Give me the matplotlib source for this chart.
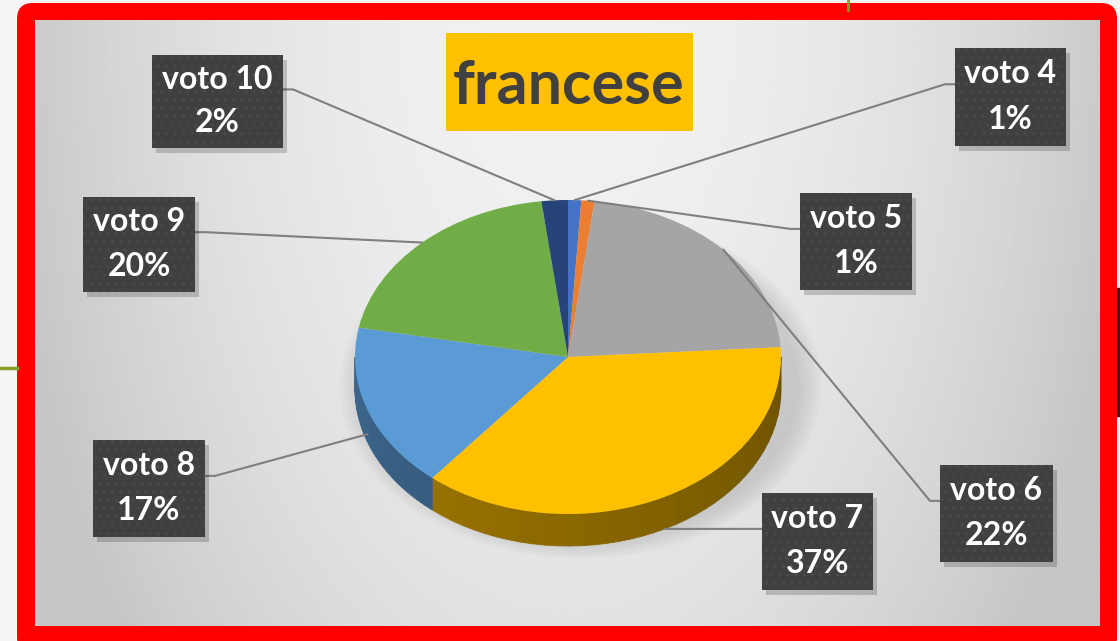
import numpy as np
import matplotlib
matplotlib.use("Agg")
import matplotlib.pyplot as plt
from matplotlib.patches import Rectangle, FancyBboxPatch, Polygon, Ellipse
from matplotlib.colors import to_rgb

# data
labels = ["voto 4", "voto 5", "voto 6", "voto 7", "voto 8", "voto 9", "voto 10"]
values = [1, 1, 22, 37, 17, 20, 2]
colors = ["#4472C4", "#ED7D31", "#A5A5A5", "#FFC000", "#5B9BD5", "#70AD47", "#264478"]
title = "francese"

# label boxes (left, top, width, height) in pixels, and which side the leader leaves from
boxes = [(955, 48, 111, 98), (800, 193, 112, 97), (940, 465, 113, 97), (762, 493, 111, 97),
         (93, 440, 112, 97), (83, 197, 112, 95), (152, 55, 131, 93)]
box_side = ["L", "L", "L", "L", "R", "R", "R"]
# where the leader touches the pie: 0 = top rim, >0 = down the side wall (fraction of depth)
anchor_drop = [0, 0, 0, 1.0, 0.75, 0, 0]

W, H = 1120, 641
CX, CY, RX, RY, DEPTH = 568, 357, 213, 157, 32

fig = plt.figure(figsize=(W / 100, H / 100), dpi=100)
fig.patch.set_facecolor("#f5f5f5")

# background / frame
bg = fig.add_axes([0, 0, 1, 1])
bg.set_xlim(0, W)
bg.set_ylim(H, 0)
bg.axis("off")
bg.plot([0, 17], [368, 368], color="#8a9a2a", lw=2.5)
bg.plot([848, 848], [0, 10], color="#8a9a2a", lw=2)
bg.add_patch(Rectangle((1112, 288), 10, 128, color="#222222"))
bg.add_patch(FancyBboxPatch((17, 3), 1100, 650, boxstyle="round,pad=0,rounding_size=16",
                            fc="#ff0000", ec="none", zorder=1))
gx, gy = np.meshgrid(np.linspace(-1, 1, 400), np.linspace(0, 1, 250))
grad = np.clip(0.945 - 0.15 * (gx ** 2) - 0.06 * gy ** 2, 0.78, 1)
bg.imshow(grad, cmap="gray", vmin=0, vmax=1, extent=(35, 1100, 626, 20), aspect="auto",
          interpolation="bilinear", zorder=2)
bg.set_xlim(0, W)
bg.set_ylim(H, 0)

# pie axes, scaled so the unit circle becomes the tilted ellipse
pa = fig.add_axes([0, 0, 1, 1])
pa.patch.set_alpha(0)

# soft shadow
for k in range(8):
    pa.add_patch(Ellipse((0.06, -0.18), 2.05 + 0.03 * k, 2.0 + 0.03 * k, fc="#7f7f7f",
                         ec="none", alpha=0.035, zorder=0))

d = DEPTH / RY
cum = np.concatenate([[0], np.cumsum(values)]) / np.sum(values)
for i, c in enumerate(colors):
    a = 90 - 360 * cum[i + 1]
    b = 90 - 360 * cum[i]
    lo, hi = max(a, -180), min(b, 0)
    if hi <= lo:
        continue
    ts = np.linspace(lo, hi, 40)
    base = np.array(to_rgb(c))
    for t0, t1 in zip(ts[:-1], ts[1:]):
        f = 0.66 - 0.24 * ((t0 + 180) / 180)
        r = np.radians([t0, t1])
        pts = [(np.cos(r[0]), np.sin(r[0])), (np.cos(r[1]), np.sin(r[1])),
               (np.cos(r[1]), np.sin(r[1]) - d), (np.cos(r[0]), np.sin(r[0]) - d)]
        col = base * f
        pa.add_patch(Polygon(pts, fc=col, ec=col, lw=0.6, zorder=1))

wedges, _ = pa.pie(values, colors=colors, startangle=90, counterclock=False, radius=1,
                   center=(0, 0), wedgeprops=dict(linewidth=0))
for w in wedges:
    w.set_zorder(2)
pa.set_aspect("auto")
pa.set_xlim(-CX / RX, (W - CX) / RX)
pa.set_ylim((CY - H) / RY, CY / RY)
pa.axis("off")

# overlay for title, labels, leader lines (pixel coords)
ov = fig.add_axes([0, 0, 1, 1])
ov.patch.set_alpha(0)
ov.set_xlim(0, W)
ov.set_ylim(H, 0)
ov.axis("off")

ov.add_patch(Rectangle((446, 33), 247, 98, fc="#FFC000", ec="none"))
ov.text(569, 86, title, ha="center", va="center", fontsize=44, fontweight="bold",
        family="Lato", color="#404040")

for i, lab in enumerate(labels):
    mid = np.radians(90 - 360 * (cum[i] + cum[i + 1]) / 2)
    axp = CX + RX * np.cos(mid)
    ayp = CY - RY * np.sin(mid) + DEPTH * anchor_drop[i]
    x0, y0, bw, bh = boxes[i]
    yy = y0 + 0.37 * bh
    if box_side[i] == "L":
        ex, sx = x0, x0 - 10
    else:
        ex, sx = x0 + bw, x0 + bw + 10
    ov.plot([ex, sx, axp], [yy, yy, ayp], color="#7f7f7f", lw=1.5, zorder=3,
            solid_capstyle="round")
    ov.add_patch(Rectangle((x0 + 4, y0 + 5), bw, bh, fc="#000000", ec="none", alpha=0.18,
                           zorder=4))
    ov.add_patch(Rectangle((x0, y0), bw, bh, fc="#404040", ec="#4a4a4a", lw=0,
                           hatch="..", zorder=5))
    ov.text(x0 + bw / 2, y0 + 0.26 * bh, lab, ha="center", va="center", fontsize=23,
            fontweight="bold", family="Lato", color="white", zorder=6)
    ov.text(x0 + bw / 2, y0 + 0.73 * bh, f"{values[i]}%", ha="center", va="center",
            fontsize=23, fontweight="bold", family="Lato", color="white", zorder=6)

fig.savefig("out.png", dpi=100)
